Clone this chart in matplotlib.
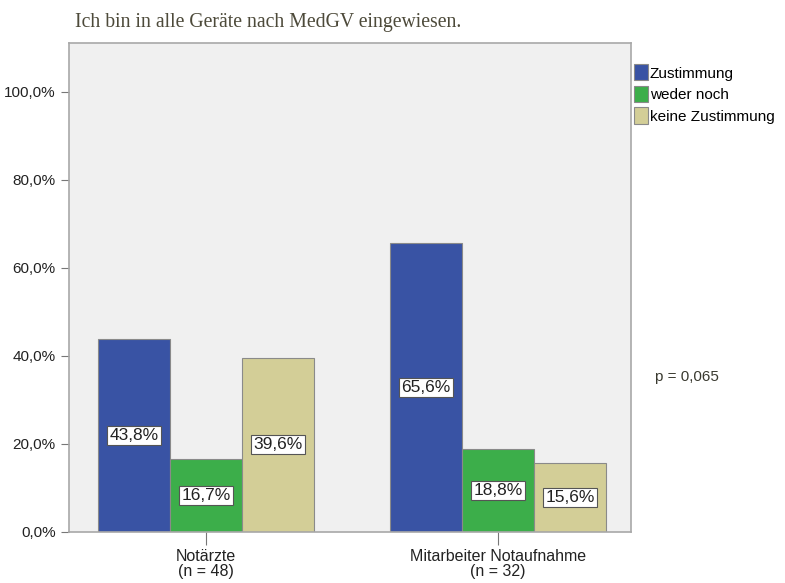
import matplotlib.pyplot as plt
import numpy as np

groups = ["Notärzte\n(n = 48)", "Mitarbeiter Notaufnahme\n(n = 32)"]
series = ["Zustimmung", "weder noch", "keine Zustimmung"]
zustimmung = [43.8, 65.6]
weder_noch = [16.7, 18.8]
keine = [39.6, 15.6]
colors = ["#3953a4", "#3cae4a", "#d3ce97"]
yticks = [0, 20, 40, 60, 80, 100]

plt.rcParams["font.family"] = "Liberation Sans"

fig = plt.figure(figsize=(7.85, 5.83), dpi=100)
ax = fig.add_axes([0.0879, 0.0875, 0.7159, 0.8385])
ax.set_facecolor("#f0f0f0")

x = np.arange(len(groups))
w = 0.2466
for i, (vals, name) in enumerate(zip([zustimmung, weder_noch, keine], series)):
    pos = x + (i - 1) * w
    ax.bar(pos, vals, width=w, color=colors[i], edgecolor="#8a8a8a",
           linewidth=0.8, label=name, zorder=2)
    for px, v in zip(pos, vals):
        ax.text(px, v / 2, f"{v:.1f}%".replace(".", ","), ha="center", va="center",
                fontsize=12.5, color="#222222", zorder=3,
                bbox=dict(boxstyle="square,pad=0.12", fc="white", ec="#555555", lw=0.8))

ax.set_xlim(-0.469, 1.455)
ax.set_ylim(0, 111.1)
ax.set_yticks(yticks)
ax.set_yticklabels([f"{t:.1f}%".replace(".", ",") for t in yticks])
ax.set_xticks(x)
ax.set_xticklabels(groups, linespacing=1.0)
ax.tick_params(axis="y", length=6, color="#777777", labelsize=11, labelcolor="#222222")
ax.tick_params(axis="x", length=9, color="#777777", labelsize=11.5, labelcolor="#222222")
for s in ax.spines.values():
    s.set_color("#a8a8a8")
    s.set_linewidth(1.2)

fig.text(0.0955, 0.962, "Ich bin in alle Geräte nach MedGV eingewiesen.",
         family="Liberation Serif", fontsize=14.2, color="#4d4a3a", va="center")

ax.legend(loc="upper left", bbox_to_anchor=(1.0, 0.963), frameon=False,
          fontsize=11, handlelength=0.9, handleheight=1.25, handletextpad=0.12,
          labelspacing=0.35, borderaxespad=0, borderpad=0.2)

fig.text(0.834, 0.353, "p = 0,065", fontsize=11, color="#3a3a30", va="center")

plt.savefig("out.png", dpi=100)
